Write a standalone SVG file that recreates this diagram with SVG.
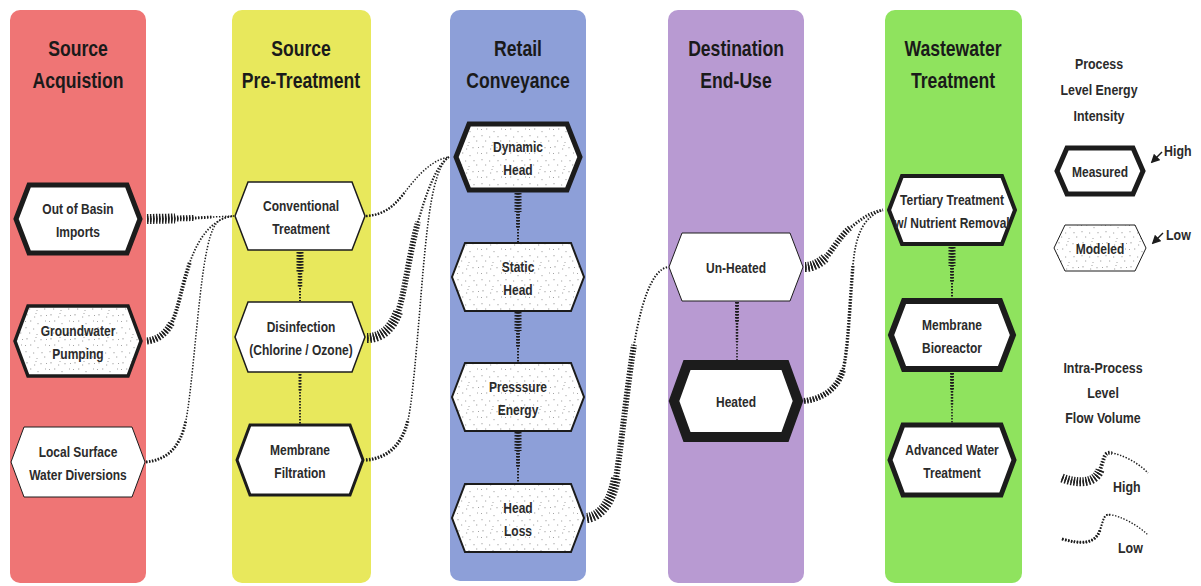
<svg xmlns="http://www.w3.org/2000/svg" width="1201" height="586" viewBox="0 0 1201 586">
<style>
.col{stroke:none}
.t{font-family:"Liberation Sans",Arial,sans-serif;font-weight:bold;font-size:15px;fill:#2b2b2b;text-anchor:middle}
.title{font-family:"Liberation Sans",Arial,sans-serif;font-weight:bold;font-size:22px;fill:#1a1a1a;text-anchor:middle}
.lg{font-family:"Liberation Sans",Arial,sans-serif;font-weight:bold;font-size:15.5px;fill:#2b2b2b;text-anchor:middle}
.st{text-anchor:start}
.hex{fill:#fff;stroke:#1c1c1c;stroke-linejoin:miter;stroke-miterlimit:10}
.dot{fill:url(#dots)}
.c{fill:none;stroke:#1e1e1e;stroke-dasharray:1.4 1.6}
.w10{stroke-width:10}.w9{stroke-width:9}.w7{stroke-width:7}.w6{stroke-width:6}.w4{stroke-width:4}.w3{stroke-width:3}.w2{stroke-width:2}.w15{stroke-width:1.5}
</style>
<defs>
<pattern id="dots" width="24" height="24" patternUnits="userSpaceOnUse">
<rect width="24" height="24" fill="#fff"/>
<path d="M3,2v1.5M10,5h1.2M17,3v1.3M6,9h1.3M14,11v1.2M21,9h1M2,15v1.3M9,17h1.2M18,16v1.3M5,21h1.2M13,22v1M20,21h1.3M22,3.5h1M12,1v1M1,9.5h1" stroke="#9a9a9a" stroke-width="0.9"/>
</pattern>
<marker id="ah" viewBox="0 0 10 10" refX="8" refY="5" markerWidth="6" markerHeight="6" orient="auto">
<path d="M0,0L10,5L0,10z" fill="#1c1c1c"/>
</marker>
</defs>
<rect width="1201" height="586" fill="#fff"/>

<g id="columns">
<rect class="col" x="10" y="10" width="136" height="573" rx="10" fill="#ef7575"/>
<rect class="col" x="232" y="10" width="139" height="573" rx="10" fill="#e8e85c"/>
<rect class="col" x="450" y="10" width="136" height="571" rx="10" fill="#8d9fd8"/>
<rect class="col" x="668" y="10" width="136" height="573" rx="10" fill="#b89ad2"/>
<rect class="col" x="885" y="10" width="137" height="573" rx="10" fill="#8fe35e"/>
<text class="title" transform="matrix(.8 0 0 1 78 56)">Source</text>
<text class="title" transform="matrix(.8 0 0 1 78 88)">Acquistion</text>
<text class="title" transform="matrix(.8 0 0 1 301 56)">Source</text>
<text class="title" transform="matrix(.8 0 0 1 301 88)">Pre-Treatment</text>
<text class="title" transform="matrix(.8 0 0 1 518 56)">Retail</text>
<text class="title" transform="matrix(.8 0 0 1 518 88)">Conveyance</text>
<text class="title" transform="matrix(.8 0 0 1 736 56)">Destination</text>
<text class="title" transform="matrix(.8 0 0 1 736 88)">End-Use</text>
<text class="title" transform="matrix(.8 0 0 1 953 56)">Wastewater</text>
<text class="title" transform="matrix(.8 0 0 1 953 88)">Treatment</text>
</g>

<g id="connectors">
<g id="c-basin-conv">
<path class="c w15" d="M147,219 L175,218.5 L195,218 L213,217 L234,216"/>
<path class="c w3" d="M147,219 L175,218.5 L195,218 L213,217"/>
<path class="c w6" d="M147,219 L175,218.5 L195,218"/>
<path class="c w10" d="M147,219 L175,218.5"/>
</g>
<g id="c-ground-conv">
<path class="c" stroke-width="1.8" d="M147,341 C157,340 166,334 172,322 S182,285 190,262 S212,218 234,216"/>
<path class="c w4" d="M147,341 C157,340 166,334 172,322 S182,285 190,262"/>
<path class="c w7" d="M147,341 C157,340 166,334 172,322"/>
</g>
<g id="c-local-conv">
<path class="c w15" d="M146,462 C165,460 180,450 186,420 S198,300 205,260 S218,218 234,216"/>
<path class="c w3" d="M146,462 C165,460 180,450 186,420"/>
</g>
<g id="c-conv-dyn">
<path class="c w15" d="M366,216 C385,215 395,205 405,192 S430,160 449,157"/>
<path class="c" stroke-width="2.5" d="M366,216 C385,215 395,205 405,192"/>
</g>
<g id="c-dis-dyn">
<path class="c" stroke-width="2.2" d="M367,338 C382,338 392,328 398,312 S410,250 418,222 S436,165 449,157"/>
<path class="c w6" d="M367,338 C382,338 392,328 398,312 S410,250 418,222"/>
<path class="c w10" d="M367,338 C382,338 392,328 398,312"/>
</g>
<g id="c-mem-dyn">
<path class="c" stroke-width="1.6" d="M366,460 C388,458 402,445 408,420 S420,300 425,250 S436,166 449,157"/>
<path class="c" stroke-width="3.5" d="M366,460 C388,458 402,445 408,420"/>
</g>
<g id="c-loss-unheated">
<path class="c w2" d="M587,518 C602,516 612,500 616,478 S628,380 634,345 S650,270 668,267"/>
<path class="c w6" d="M587,518 C602,516 612,500 616,478 S628,380 634,345"/>
<path class="c w10" d="M587,518 C602,516 612,500 616,478"/>
</g>
<g id="c-unheated-tert">
<path class="c w3" d="M805,267 C813,267 820,263 826,257 S840,236 850,228 S870,212 883,210"/>
<path class="c w6" d="M805,267 C813,267 820,263 826,257 S840,236 850,228"/>
<path class="c w10" d="M805,267 C813,267 820,263 826,257"/>
</g>
<g id="c-heated-tert">
<path class="c" stroke-width="1.8" d="M804,401 C823,399 838,388 843,370 S850,300 853,265 S866,216 883,210"/>
<path class="c" stroke-width="3.5" d="M804,401 C823,399 838,388 843,370 S850,300 853,265"/>
<path class="c w6" d="M804,401 C823,399 838,388 843,370"/>
</g>
<g id="c-vertical">
<path class="c w2" d="M300,252V301"/><path class="c" stroke-width="4.5" d="M300,252V287"/><path class="c w7" d="M300,252V272"/>
<path class="c" stroke-width="1.8" d="M300,374V424"/><path class="c w3" d="M300,374V392"/>
<path class="c w2" d="M518,193V242"/><path class="c w4" d="M518,193V228"/><path class="c w7" d="M518,193V212"/>
<path class="c w2" d="M518,312V362"/><path class="c w4" d="M518,312V347"/><path class="c w7" d="M518,312V331"/>
<path class="c w2" d="M518,432V483"/><path class="c w4" d="M518,432V467"/><path class="c w7" d="M518,432V451"/>
<path class="c" stroke-width="1.6" d="M737,302V360"/><path class="c" stroke-width="2.5" d="M737,302V342"/><path class="c w4" d="M737,302V322"/>
<path class="c w2" d="M952,247V298"/><path class="c w4" d="M952,247V282"/><path class="c w7" d="M952,247V266"/>
<path class="c" stroke-width="1.6" d="M952,373V423"/><path class="c" stroke-width="2.5" d="M952,373V406"/><path class="c w4" d="M952,373V390"/>
</g>
</g>

<g id="n-basin"><polygon class="hex" stroke-width="5" points="16,219 29,185 127,185 140,219 127,253 29,253"/><text class="t" transform="matrix(.8 0 0 1 78 213.5)">Out of Basin</text><text class="t" transform="matrix(.8 0 0 1 78 237)">Imports</text></g>
<g id="n-ground"><polygon class="hex dot" stroke-width="3.5" points="15,341 28,306 128,306 141,341 128,376 28,376"/><text class="t" transform="matrix(.8 0 0 1 78 335.5)">Groundwater</text><text class="t" transform="matrix(.8 0 0 1 78 359)">Pumping</text></g>
<g id="n-local"><polygon class="hex" stroke="#f2f2f2" stroke-width="1" points="11,462 24,427 132,427 145,462 132,497 24,497"/><text class="t" transform="matrix(.8 0 0 1 78 456.5)">Local Surface</text><text class="t" transform="matrix(.8 0 0 1 78 480)">Water Diversions</text></g>

<g id="n-conv"><polygon class="hex" stroke="#444" stroke-width="1.5" points="235,216 248,182 352,182 365,216 352,250 248,250"/><text class="t" transform="matrix(.8 0 0 1 301 210.5)">Conventional</text><text class="t" transform="matrix(.8 0 0 1 301 234)">Treatment</text></g>
<g id="n-dis"><polygon class="hex" stroke="#444" stroke-width="1.5" points="235,337 248,302 352,302 365,337 352,372 248,372"/><text class="t" transform="matrix(.8 0 0 1 301 331.5)">Disinfection</text><text class="t" transform="matrix(.8 0 0 1 301 355)">(Chlorine / Ozone)</text></g>
<g id="n-memf"><polygon class="hex" stroke-width="3" points="237,460 250,425 350,425 363,460 350,495 250,495"/><text class="t" transform="matrix(.8 0 0 1 300 454.5)">Membrane</text><text class="t" transform="matrix(.8 0 0 1 300 478)">Filtration</text></g>

<g id="n-dyn"><polygon class="hex dot" stroke-width="5" points="456,157 469,124 567,124 580,157 567,190 469,190"/><text class="t" transform="matrix(.8 0 0 1 518 151.5)">Dynamic</text><text class="t" transform="matrix(.8 0 0 1 518 175)">Head</text></g>
<g id="n-static"><polygon class="hex dot" stroke-width="2" points="452,277 465,243 571,243 584,277 571,311 465,311"/><text class="t" transform="matrix(.8 0 0 1 518 271.5)">Static</text><text class="t" transform="matrix(.8 0 0 1 518 295)">Head</text></g>
<g id="n-press"><polygon class="hex dot" stroke-width="2" points="452,397 465,363 571,363 584,397 571,431 465,431"/><text class="t" transform="matrix(.8 0 0 1 518 391.5)">Presssure</text><text class="t" transform="matrix(.8 0 0 1 518 415)">Energy</text></g>
<g id="n-loss"><polygon class="hex dot" stroke-width="2" points="452,518 465,484 571,484 584,518 571,552 465,552"/><text class="t" transform="matrix(.8 0 0 1 518 512.5)">Head</text><text class="t" transform="matrix(.8 0 0 1 518 536)">Loss</text></g>

<g id="n-unheated"><polygon class="hex" stroke="#f2f2f2" stroke-width="1" points="669,267 682,233 790,233 803,267 790,301 682,301"/><text class="t" transform="matrix(.8 0 0 1 736 272.5)">Un-Heated</text></g>
<g id="n-heated"><polygon class="hex" stroke-width="10" points="674,401 687,365 785,365 798,401 785,437 687,437"/><text class="t" transform="matrix(.8 0 0 1 736 406.5)">Heated</text></g>

<g id="n-tert"><polygon class="hex" stroke-width="4" points="889,210 902,176 1002,176 1015,210 1002,244 902,244"/><text class="t" transform="matrix(.8 0 0 1 952 204.5)">Tertiary Treatment</text><text class="t" transform="matrix(.8 0 0 1 952 228)">w/ Nutrient Removal</text></g>
<g id="n-mbr"><polygon class="hex" stroke-width="6" points="891,335 904,301 1000,301 1013,335 1000,369 904,369"/><text class="t" transform="matrix(.8 0 0 1 952 329.5)">Membrane</text><text class="t" transform="matrix(.8 0 0 1 952 353)">Bioreactor</text></g>
<g id="n-awt"><polygon class="hex" stroke-width="5" points="890,460 903,425 1001,425 1014,460 1001,495 903,495"/><text class="t" transform="matrix(.8 0 0 1 952 454.5)">Advanced Water</text><text class="t" transform="matrix(.8 0 0 1 952 478)">Treatment</text></g>

<g id="legend">
<text class="lg" transform="matrix(.8 0 0 1 1099 69)">Process</text>
<text class="lg" transform="matrix(.8 0 0 1 1099 95)">Level Energy</text>
<text class="lg" transform="matrix(.8 0 0 1 1099 121)">Intensity</text>
<g id="l-measured"><polygon class="hex" stroke-width="5" points="1057,171 1067,148 1133,148 1143,171 1133,194 1067,194"/><text class="t" transform="matrix(.8 0 0 1 1100 176.5)">Measured</text></g>
<path d="M1162,152 L1152,162" stroke="#1c1c1c" stroke-width="1.5" fill="none" marker-end="url(#ah)"/>
<text class="lg st" transform="matrix(.8 0 0 1 1164 156)">High</text>
<g id="l-modeled"><polygon class="hex dot" stroke="#888" stroke-width="1" points="1054,248 1065,225 1135,225 1146,248 1135,271 1065,271"/><text class="t" transform="matrix(.8 0 0 1 1100 253.5)">Modeled</text></g>
<path d="M1163,233 L1153,243" stroke="#1c1c1c" stroke-width="1.5" fill="none" marker-end="url(#ah)"/>
<text class="lg st" transform="matrix(.8 0 0 1 1166 240)">Low</text>
<text class="lg" transform="matrix(.8 0 0 1 1103 373)">Intra-Process</text>
<text class="lg" transform="matrix(.8 0 0 1 1103 398)">Level</text>
<text class="lg" transform="matrix(.8 0 0 1 1103 423)">Flow Volume</text>
<path class="c w15" d="M1062,478 C1078,484 1095,484 1100,470 S1104,452 1112,453 S1138,462 1148,473"/>
<path class="c w4" d="M1062,478 C1078,484 1095,484 1100,470 S1104,452 1112,453"/>
<path class="c w9" d="M1062,478 C1078,484 1095,484 1100,470"/>
<text class="lg st" transform="matrix(.8 0 0 1 1113 492)">High</text>
<path class="c" stroke-width="1.3" d="M1062,539 C1080,544 1095,545 1100,530 S1104,514 1112,515 S1138,525 1148,535"/>
<path class="c w2" d="M1062,539 C1080,544 1095,545 1100,530 S1104,514 1112,515"/>
<path class="c w3" d="M1062,539 C1080,544 1095,545 1100,530"/>
<text class="lg st" transform="matrix(.8 0 0 1 1118 553)">Low</text>
</g>
</svg>
